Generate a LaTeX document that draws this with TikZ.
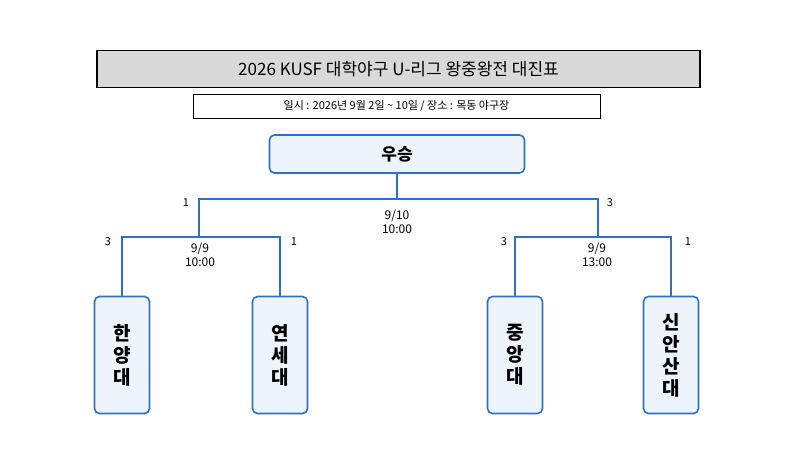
\documentclass[tikz,border=0pt]{standalone}
\usepackage{fontspec}
\setmainfont{Noto Sans CJK KR}
\usetikzlibrary{positioning}
\definecolor{colorLine}{HTML}{2F6FC4}
\definecolor{colorBox}{HTML}{EEF4FC}
\definecolor{colorTitle}{HTML}{D9D9D9}
\tikzset{
  team/.style={draw=colorLine, fill=colorBox, line width=1.6pt, rounded corners=5pt,
    minimum width=55pt, minimum height=117pt, inner sep=0pt, align=center,
    font=\fontsize{19}{22}\selectfont\bfseries},
  link/.style={draw=colorLine, line width=1.6pt},
  score/.style={font=\fontsize{11}{13}\selectfont},
  when/.style={font=\fontsize{12}{14}\selectfont, align=center}
}
\begin{document}
\begin{tikzpicture}[x=1pt, y=-1pt]
\useasboundingbox (0,0) rectangle (800,460);
% titles
\node[draw, fill=colorTitle, line width=1.2pt, minimum width=603pt, minimum height=37pt,
  font=\fontsize{17}{20}\selectfont] (title) at (398.5,69) {2026 KUSF 대학야구 U-리그 왕중왕전 대진표};
\node[draw, line width=1pt, minimum width=407pt, minimum height=24pt,
  font=\fontsize{11}{13}\selectfont] (when) at (396.5,106) {일시 : 2026년 9월 2일 \textasciitilde{} 10일 / 장소 : 목동 야구장};
\node[draw=colorLine, fill=colorBox, line width=1.6pt, rounded corners=5pt, minimum width=255pt,
  minimum height=38pt, font=\fontsize{17}{20}\selectfont\bfseries] (win) at (397,154) {우승};
% teams
\node[team] (hy) at (122,355) {한\\양\\대};
\node[team] (ys) at (280,355) {연\\세\\대};
\node[team] (ca) at (515,355) {중\\앙\\대};
\node[team] (sa) at (671,355) {신\\안\\산\\대};
% junctions
\coordinate (finalL) at (199,199);
\coordinate (finalR) at (598,199);
\coordinate (semiL) at (199,237);
\coordinate (semiR) at (598,237);
\draw[link] (win.south) -- (397,199);
\draw[link] (semiL) -- (finalL) -- (finalR) -- (semiR);
\draw[link] (hy.north) |- (semiL) -| (ys.north);
\draw[link] (ca.north) |- (semiR) -| (sa.north);
% scores
\node[score] (s1) at (186,203) {1};
\node[score] (s2) at (610,203) {3};
\node[score] (s3) at (108,242) {3};
\node[score] (s4) at (294,242) {1};
\node[score] (s5) at (504,242) {3};
\node[score] (s6) at (688,242) {1};
\node[when] (t1) at (397,222) {9/10\\10:00};
\node[when] (t2) at (200,255) {9/9\\10:00};
\node[when] (t3) at (597,255) {9/9\\13:00};
\end{tikzpicture}
\end{document}
